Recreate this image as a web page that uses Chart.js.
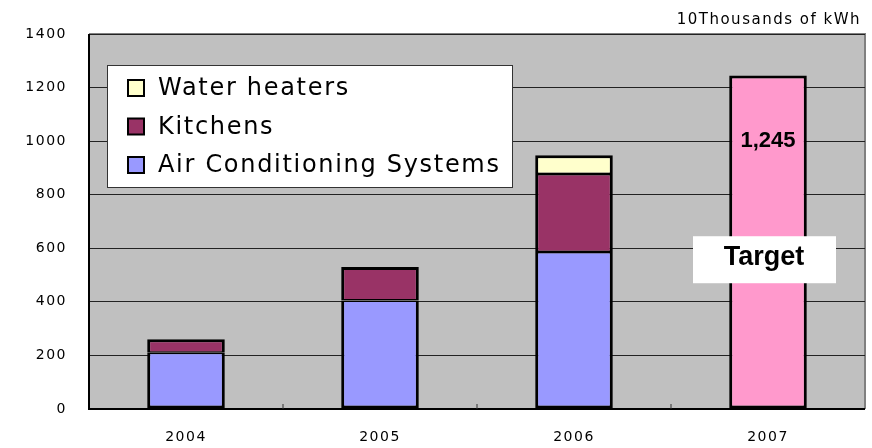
<!DOCTYPE html>
<html>
<head>
<meta charset="utf-8">
<script src="https://cdn.jsdelivr.net/npm/chart.js@4/dist/chart.umd.min.js"></script>
<style>
  html, body { margin: 0; padding: 0; background: #fff; }
  #wrap { width: 872px; height: 448px; }
</style>
</head>
<body>
<div id="wrap"><canvas id="grafico" width="872" height="448"></canvas></div>
<script>
const years = ['2004', '2005', '2006', '2007']
const airCon = [210, 405, 586, null]
const kitchens = [50, 125, 291, null]
const waterHeaters = [null, null, 70, null]
const target = [null, null, null, 1245]
const yTicks = [0, 200, 400, 600, 800, 1000, 1200, 1400]
const unitText = '10Thousands of kWh'

// fondo gris del area y marco
const plotFondo = {
  id: 'plotFondo',
  beforeDraw(chart) {
    const { ctx, chartArea: a } = chart
    ctx.letterSpacing = '1.5px'
    ctx.save()
    ctx.fillStyle = '#c0c0c0'
    ctx.fillRect(a.left, a.top, a.right - a.left, a.bottom - a.top)
    ctx.strokeStyle = '#808080'
    ctx.lineWidth = 2
    ctx.beginPath()
    ctx.moveTo(a.left, a.top)
    ctx.lineTo(a.right, a.top)
    ctx.lineTo(a.right, a.bottom)
    ctx.stroke()
    ctx.restore()
  },
  afterDatasetsDraw(chart) {
    const { ctx, chartArea: a, scales } = chart
    const x = scales.x
    ctx.save()
    // ejes
    ctx.strokeStyle = '#000'
    ctx.lineWidth = 2
    ctx.beginPath()
    ctx.moveTo(a.left, a.top)
    ctx.lineTo(a.left, a.bottom)
    ctx.lineTo(a.right, a.bottom)
    ctx.stroke()
    // marcas entre categorias
    ctx.lineWidth = 1
    ctx.strokeStyle = '#333'
    for (let i = 1; i < years.length; i++) {
      const px = (x.getPixelForValue(i - 1) + x.getPixelForValue(i)) / 2
      ctx.beginPath()
      ctx.moveTo(px, a.bottom)
      ctx.lineTo(px, a.bottom - 5)
      ctx.stroke()
    }
    // textos del objetivo
    const y = scales.y
    const cx = x.getPixelForValue(3)
    ctx.letterSpacing = '0px'
    ctx.fillStyle = '#000'
    ctx.textAlign = 'center'
    ctx.textBaseline = 'middle'
    ctx.font = 'bold 22px "Liberation Sans", Arial, sans-serif'
    ctx.fillText('1,245', cx, y.getPixelForValue(1000))
    ctx.fillStyle = '#fff'
    ctx.fillRect(cx - 75, y.getPixelForValue(645), 143, 47)
    ctx.fillStyle = '#000'
    ctx.font = 'bold 27px "Liberation Sans", Arial, sans-serif'
    ctx.fillText('Target', cx - 4, y.getPixelForValue(565))
    // unidad
    ctx.letterSpacing = '1.5px'
    ctx.textAlign = 'right'
    ctx.font = '15px "DejaVu Sans", sans-serif'
    ctx.fillText(unitText, a.right - 4, a.top - 14)
    // leyenda
    const items = chart.data.datasets.filter(d => d.label !== 'Target').slice().reverse()
    const lx = x.left + 18, ly = y.top + 31
    ctx.fillStyle = '#fff'
    ctx.fillRect(lx, ly, 405, 122)
    ctx.strokeStyle = '#333'
    ctx.lineWidth = 1
    ctx.strokeRect(lx + 0.5, ly + 0.5, 405, 122)
    ctx.letterSpacing = '1.7px'
    ctx.font = '24px "DejaVu Sans", sans-serif'
    ctx.textAlign = 'left'
    items.forEach((d, i) => {
      const ry = ly + 23 + i * 38.5
      ctx.fillStyle = d.backgroundColor
      ctx.fillRect(lx + 21, ry - 8, 16, 16)
      ctx.strokeStyle = '#000'
      ctx.lineWidth = 2
      ctx.strokeRect(lx + 21, ry - 8, 16, 16)
      ctx.fillStyle = '#000'
      ctx.fillText(d.label, lx + 51, ry + 1)
    })
    ctx.restore()
  }
}

// borde fino entre segmentos apilados
const bordeBarra = c => {
  const sets = c.chart.data.datasets
  const i = c.dataIndex
  const tieneAbajo = sets.slice(0, c.datasetIndex).some(d => d.data[i] != null)
  const tieneArriba = sets.slice(c.datasetIndex + 1).some(d => d.data[i] != null)
  return { left: 3, right: 3, top: tieneArriba ? 1.5 : 3, bottom: tieneAbajo ? 1.5 : 3 }
}

const barOpts = {
  borderColor: '#000',
  borderWidth: bordeBarra,
  borderSkipped: false,
  barPercentage: 0.8,
  categoryPercentage: 0.5
}

const data = {
  labels: years,
  datasets: [
    { label: 'Air Conditioning Systems', data: airCon, backgroundColor: '#9999ff', ...barOpts },
    { label: 'Kitchens', data: kitchens, backgroundColor: '#993366', ...barOpts },
    { label: 'Water heaters', data: waterHeaters, backgroundColor: '#ffffcc', ...barOpts },
    { label: 'Target', data: target, backgroundColor: '#ff99cc', ...barOpts }
  ]
}

const config = {
  type: 'bar',
  data,
  plugins: [plotFondo],
  options: {
    responsive: false,
    animation: false,
    layout: { padding: { left: 0, right: 7, top: 34, bottom: 0 } },
    plugins: { legend: { display: false }, tooltip: { enabled: false } },
    scales: {
      x: {
        stacked: true,
        grid: { display: false },
        border: { display: false },
        ticks: {
          color: '#000',
          padding: 12,
          font: { family: '"DejaVu Sans", sans-serif', size: 14 }
        },
        afterFit: s => { s.height = 39 }
      },
      y: {
        stacked: true,
        min: 0,
        max: 1400,
        afterBuildTicks: s => { s.ticks = yTicks.map(v => ({ value: v })) },
        grid: { color: '#222', lineWidth: 1, drawTicks: false },
        border: { display: false },
        ticks: {
          color: '#000',
          padding: 22,
          callback: v => String(v),
          font: { family: '"DejaVu Sans", sans-serif', size: 14 }
        },
        afterFit: s => { s.width = 89 }
      }
    }
  }
}

const chart1 = new Chart(document.getElementById('grafico'), config)
</script>
</body>
</html>
